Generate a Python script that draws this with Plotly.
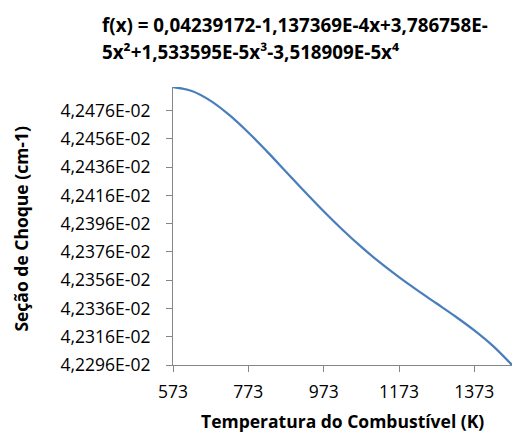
import plotly.graph_objects as go

# Data (temperature in K, cross section in cm-1)
temperature = [573, 623, 673, 723, 773, 823, 873, 923, 973, 1023,
               1073, 1123, 1173, 1223, 1273, 1323, 1373, 1423, 1473]
cross_section = [0.04249280, 0.04249000, 0.04248300, 0.04247288, 0.04246061,
                 0.04244703, 0.04243284, 0.04241861, 0.04240480, 0.04239172,
                 0.04237957, 0.04236840, 0.04235815, 0.04234862, 0.04233950,
                 0.04233032, 0.04232050, 0.04230934, 0.04229600]

x_tick_vals = [573, 773, 973, 1173, 1373]
y_tick_vals = [0.042296, 0.042316, 0.042336, 0.042356, 0.042376,
               0.042396, 0.042416, 0.042436, 0.042456, 0.042476]
y_tick_text = ["4,2296E-02", "4,2316E-02", "4,2336E-02", "4,2356E-02", "4,2376E-02",
               "4,2396E-02", "4,2416E-02", "4,2436E-02", "4,2456E-02", "4,2476E-02"]

title_line1 = "f(x) = 0,04239172-1,137369E-4x+3,786758E-"
title_line2 = "5x²+1,533595E-5x³-3,518909E-5x⁴"
x_title = "Temperatura do Combustível (K)"
y_title = "Seção de Choque (cm-1)"

FONT = "Open Sans"
FS = 17.5
TFS = 18.8

fig = go.Figure()
fig.add_trace(go.Scatter(
    x=temperature, y=cross_section, mode="lines",
    line=dict(color="#4a7ebb", width=2.25, shape="spline"),
    hoverinfo="skip", showlegend=False,
))

axis_common = dict(
    showgrid=False, zeroline=False, showline=True, linecolor="#868686", linewidth=1,
    ticks="outside", ticklen=6, tickcolor="#868686", tickwidth=1,
    tickfont=dict(family=FONT, size=FS, color="#000000"),
)

fig.update_layout(
    width=513, height=441,
    margin=dict(l=173, r=1, t=87, b=76),
    paper_bgcolor="white", plot_bgcolor="white",
    xaxis=dict(range=[573, 1473], tickvals=x_tick_vals, ticktext=[str(v) for v in x_tick_vals],
               ticklabelstandoff=5, **axis_common),
    yaxis=dict(range=[0.042296, 0.0424928], tickvals=y_tick_vals, ticktext=y_tick_text,
               ticklabelstandoff=12, **axis_common),
    annotations=[
        dict(text="<b>" + title_line1 + "</b>", xref="paper", yref="paper",
             x=-0.215, y=1.222, xanchor="left", yanchor="middle", align="left",
             showarrow=False, font=dict(family=FONT, size=TFS, color="#000000")),
        dict(text="<b>" + title_line2 + "</b>", xref="paper", yref="paper",
             x=-0.215, y=1.126, xanchor="left", yanchor="middle", align="left",
             showarrow=False, font=dict(family=FONT, size=TFS, color="#000000")),
        dict(text="<b>" + x_title + "</b>", xref="paper", yref="paper",
             x=0.5, y=-0.2, xanchor="center", yanchor="middle",
             showarrow=False, font=dict(family=FONT, size=FS, color="#000000")),
        dict(text="<b>" + y_title + "</b>", xref="paper", yref="paper",
             x=-0.451, y=0.491, xanchor="center", yanchor="middle", textangle=-90,
             showarrow=False, font=dict(family=FONT, size=FS, color="#000000")),
    ],
)

fig.write_html("out.html", config={"displayModeBar": False},
               post_script="document.body.style.margin='0';document.body.style.overflow='hidden';")
